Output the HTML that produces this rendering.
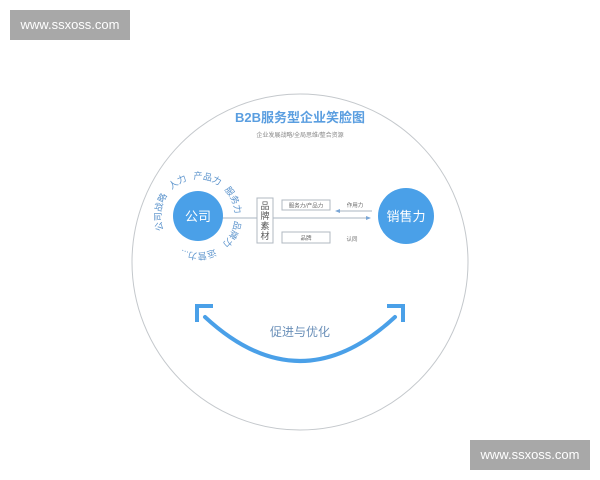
<!DOCTYPE html>
<html><head><meta charset="utf-8"><style>
body{margin:0;width:600px;height:480px;background:#fff;overflow:hidden;position:relative;font-family:"Liberation Sans","Noto Sans CJK SC",sans-serif}
.wm{position:absolute;background:#a8a8a8;color:#fff;font-size:13px;text-align:center;line-height:30px;width:120px;height:30px}
</style></head><body>
<div class="wm" style="left:10px;top:10px">www.ssxoss.com</div>
<div class="wm" style="left:470px;top:440px">www.ssxoss.com</div>
<svg width="600" height="480" style="position:absolute;left:0;top:0" font-family="Liberation Sans, Noto Sans CJK SC, sans-serif">
<circle cx="300" cy="262" r="168" fill="none" stroke="#c4c8cc" stroke-width="1"/>
<text x="300" y="122" text-anchor="middle" font-size="13" font-weight="bold" fill="#5a9ee0">B2B服务型企业笑脸图</text>
<text x="300" y="137" text-anchor="middle" font-size="6" fill="#888">企业发展战略/全局思维/整合资源</text>
<line x1="222" y1="218" x2="370" y2="218" stroke="#aab4c0" stroke-width="1"/>
<path d="M366 216 L371 218 L366 220Z" fill="#7aa6d6"/>
<line x1="337" y1="211" x2="372" y2="211" stroke="#aab4c0" stroke-width="1"/>
<path d="M340 209 L335 211 L340 213Z" fill="#7aa6d6"/>
<rect x="257" y="198" width="16" height="45" fill="#fff" stroke="#b0b8c2"/>
<text font-size="9" fill="#555" text-anchor="middle"><tspan x="265" y="209">品</tspan><tspan x="265" y="219">牌</tspan><tspan x="265" y="229">素</tspan><tspan x="265" y="239">材</tspan></text>
<rect x="282" y="200" width="48" height="10" fill="#fff" stroke="#b0b8c2"/>
<text x="306" y="207.5" text-anchor="middle" font-size="5.5" fill="#666">服务力/产品力</text>
<rect x="282" y="232" width="48" height="11" fill="#fff" stroke="#b0b8c2"/>
<text x="306" y="240" text-anchor="middle" font-size="5.5" fill="#666">品牌</text>
<text x="355" y="207" text-anchor="middle" font-size="5.5" fill="#666">作用力</text>
<text x="352" y="241" text-anchor="middle" font-size="5.5" fill="#666">认同</text>
<circle cx="198" cy="216" r="25" fill="#4aa0e8"/>
<text x="198" y="221" text-anchor="middle" font-size="13" fill="#fff">公司</text>
<circle cx="406" cy="216" r="28" fill="#4aa0e8"/>
<text x="406" y="221" text-anchor="middle" font-size="13" fill="#fff">销售力</text>
<g font-size="9" fill="#5b93cc" text-anchor="middle">
<text x="198" y="179" transform="rotate(255 198 216)">公</text>
<text x="198" y="179" transform="rotate(269 198 216)">司</text>
<text x="198" y="179" transform="rotate(283 198 216)">战</text>
<text x="198" y="179" transform="rotate(297 198 216)">略</text>
<text x="198" y="179" transform="rotate(322 198 216)">人</text>
<text x="198" y="179" transform="rotate(336 198 216)">力</text>
<text x="198" y="179" transform="rotate(0 198 216)">产</text>
<text x="198" y="179" transform="rotate(14 198 216)">品</text>
<text x="198" y="179" transform="rotate(28 198 216)">力</text>
<text x="198" y="179" transform="rotate(52 198 216)">服</text>
<text x="198" y="179" transform="rotate(66 198 216)">务</text>
<text x="198" y="179" transform="rotate(80 198 216)">力</text>
<text x="198" y="179" transform="rotate(104 198 216)">品</text>
<text x="198" y="179" transform="rotate(118 198 216)">牌</text>
<text x="198" y="179" transform="rotate(132 198 216)">力</text>
<text x="198" y="179" transform="rotate(160 198 216)">运</text>
<text x="198" y="179" transform="rotate(174 198 216)">营</text>
<text x="198" y="179" transform="rotate(188 198 216)">力</text>
<text x="198" y="179" transform="rotate(200 198 216)">...</text>
</g>
<path d="M205 317 Q300 405 395 317" fill="none" stroke="#4aa0e8" stroke-width="4" stroke-linecap="round"/>
<path d="M197 322 L197 306 L213 306" fill="none" stroke="#4aa0e8" stroke-width="4"/>
<path d="M387 306 L403 306 L403 322" fill="none" stroke="#4aa0e8" stroke-width="4"/>
<text x="300" y="336" text-anchor="middle" font-size="12" fill="#6a8fb8">促进与优化</text>
</svg>
</body></html>
